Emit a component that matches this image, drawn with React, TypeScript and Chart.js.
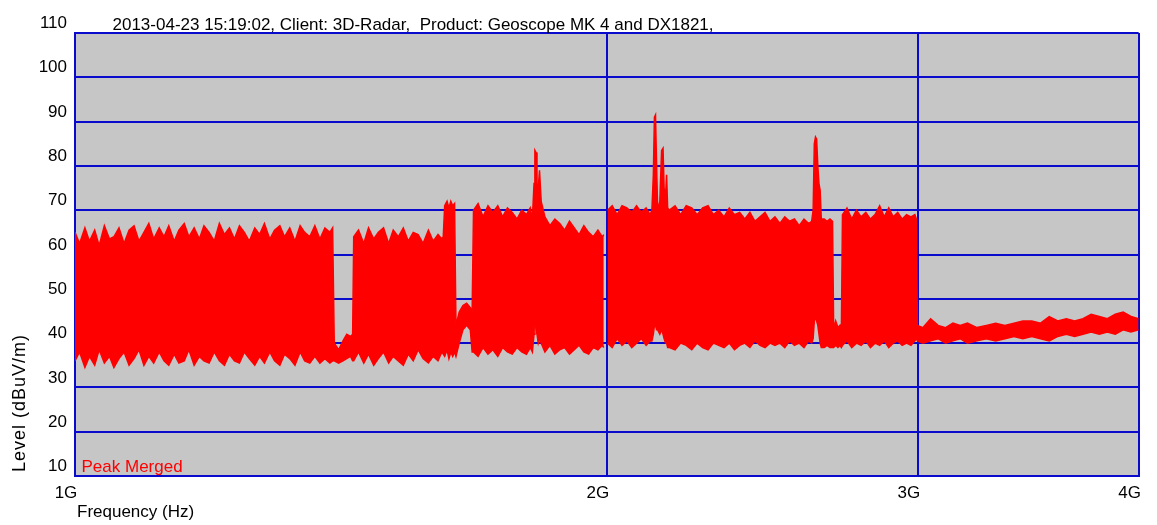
import React, { useEffect, useRef } from 'react';
import { Chart, registerables } from 'chart.js';

Chart.register(...registerables);

// ---- Text ----
const TITLE = '2013-04-23 15:19:02, Client: 3D-Radar,  Product: Geoscope MK 4 and DX1821,';
const X_TITLE = 'Frequency (Hz)';
const Y_TITLE = 'Level (dBuV/m)';
const SERIES_NAME = 'Peak Merged';

// ---- Axes ----
const xTickValuesGHz = [1, 2, 3, 4];
const xTickLabels = ['1G', '2G', '3G', '4G'];
const yMin = 10;
const yMax = 110;
const yStep = 10;

// ---- Spectrum envelope: [frequency GHz, band upper level, band lower level] in dBuV/m ----
const bandA: [number, number, number][] = [
  [1.000, 65, 36], [1.006, 62.5, 38], [1.013, 66, 34.5], [1.019, 63, 37], [1.026, 65.5, 35],
  [1.032, 62, 38.5], [1.039, 66.5, 35.5], [1.046, 63.5, 37], [1.052, 64, 34.5], [1.059, 66, 36.5],
  [1.066, 62.5, 38], [1.073, 65.5, 35], [1.080, 66.5, 36.5], [1.087, 63, 38.5], [1.094, 65, 35],
  [1.101, 67, 37], [1.108, 63.5, 35.5], [1.116, 66, 38], [1.123, 64, 36], [1.130, 66.5, 35],
  [1.138, 63, 37.5], [1.145, 65.5, 35.5], [1.153, 67, 36], [1.160, 64, 38.5], [1.168, 66, 35],
  [1.176, 63.5, 37], [1.183, 66.5, 36], [1.191, 65, 35.5], [1.199, 63, 38], [1.207, 67, 36],
  [1.215, 64.5, 35], [1.223, 66, 37.5], [1.231, 63.5, 36], [1.239, 66.5, 35.5], [1.247, 65, 38],
  [1.255, 63, 36.5], [1.264, 66, 35], [1.272, 64.5, 37], [1.280, 67, 35.5], [1.289, 63.5, 38],
  [1.297, 65.5, 36], [1.306, 66.5, 35], [1.314, 64, 37.5], [1.323, 66, 36.5], [1.332, 63, 35],
  [1.341, 66.5, 38], [1.349, 65, 36], [1.358, 64, 35.5], [1.367, 66.5, 37], [1.376, 63.5, 35.5],
  [1.385, 66, 36.5], [1.394, 65, 35.5], [1.399, 66, 36],
];

const quietA: [number, number, number][] = [
  [1.402, 40, 36], [1.410, 38.5, 35.5], [1.418, 40.5, 36], [1.425, 42, 36.5], [1.432, 41.5, 37], [1.436, 42, 36],
];

const bandB: [number, number, number][] = [
  [1.438, 64, 36], [1.447, 65.5, 38], [1.457, 62.5, 35.5], [1.466, 66, 37.5], [1.476, 63.5, 35],
  [1.485, 65, 36.5], [1.495, 66, 38], [1.505, 62.5, 35.5], [1.514, 65.5, 37], [1.524, 64, 36],
  [1.534, 66, 35], [1.544, 63, 37.5], [1.554, 65, 36], [1.564, 64.5, 38.5], [1.574, 62.5, 36.5],
  [1.585, 65.5, 35.5], [1.595, 63, 37], [1.605, 64.5, 36], [1.613, 63.5, 38], [1.616, 64, 37.5],
  [1.619, 71, 37], [1.624, 72, 38.5], [1.628, 70.5, 36.5], [1.632, 72, 38], [1.636, 71, 37], [1.640, 71.5, 38],
];

const bumpB: [number, number, number][] = [
  [1.643, 44, 37], [1.650, 47, 40], [1.658, 48.5, 43], [1.666, 49, 44], [1.674, 48, 43], [1.678, 47, 38],
];

const bandC: [number, number, number][] = [
  [1.681, 70, 38], [1.691, 71.5, 37], [1.702, 68.5, 39], [1.713, 71, 37.5], [1.724, 69.5, 38.5],
  [1.735, 71, 37], [1.746, 68.5, 39], [1.757, 70.5, 38], [1.768, 69.5, 37.5], [1.779, 68, 39],
  [1.790, 70, 38], [1.801, 69, 37.5], [1.810, 70.5, 39], [1.815, 68, 38],
  [1.819, 76, 42], [1.821, 83.5, 44], [1.824, 83, 44], [1.826, 71, 42], [1.829, 75, 40],
  [1.832, 79, 41], [1.836, 72, 40],
  [1.845, 68.5, 38], [1.857, 66.5, 39.5], [1.869, 68, 37.5], [1.881, 67, 38.5], [1.893, 65.5, 39],
  [1.905, 67.5, 37.5], [1.917, 66, 38.5], [1.929, 64.5, 39.5], [1.941, 66.5, 38], [1.953, 65, 37.5],
  [1.965, 64, 39], [1.977, 65.5, 38.5], [1.988, 64, 39.5], [1.992, 64.5, 39],
];

const bandD: [number, number, number][] = [
  [2.002, 70, 40], [2.014, 71, 39], [2.027, 69, 41], [2.040, 71, 39.5], [2.053, 70.5, 40.5],
  [2.066, 69.5, 39], [2.079, 71, 40], [2.092, 69.5, 41], [2.105, 70.5, 39.5], [2.116, 69, 40.5],
  [2.121, 70, 40.5], [2.125, 78, 42], [2.128, 91, 44], [2.131, 91.5, 44], [2.134, 80, 43],
  [2.137, 70, 43], [2.143, 72, 42], [2.148, 83.5, 43], [2.152, 84, 42], [2.155, 75, 41],
  [2.159, 73, 40], [2.162, 78, 40], [2.165, 70.5, 39],
];

const bandE: [number, number, number][] = [
  [2.170, 70, 39], [2.186, 71, 38.5], [2.202, 69, 40], [2.218, 71, 39.5], [2.234, 70.5, 38.5],
  [2.250, 69, 40], [2.266, 70.5, 39], [2.282, 71, 38.5], [2.298, 69, 40], [2.314, 70, 39.5],
  [2.330, 68.5, 39], [2.346, 70.5, 40], [2.362, 69, 38.5], [2.378, 69.5, 39.5], [2.394, 68, 40],
  [2.410, 69.5, 39], [2.426, 67.5, 40.5], [2.442, 68.5, 39.5], [2.458, 69.5, 39], [2.474, 67.5, 40],
  [2.490, 68.5, 39.5], [2.506, 67, 40], [2.522, 68.5, 39], [2.538, 67.5, 40.5], [2.554, 68, 39.5],
  [2.570, 66.5, 40], [2.586, 68, 39], [2.602, 67, 40.5], [2.612, 67.5, 40],
  [2.617, 70, 41], [2.621, 85, 45], [2.625, 86.5, 46], [2.629, 86, 45], [2.633, 80, 44],
  [2.637, 76, 42], [2.641, 74.5, 40], [2.645, 68, 39], [2.655, 68, 39], [2.665, 67.5, 39.5],
  [2.675, 68, 39], [2.684, 67.5, 39],
];

const quietE: [number, number, number][] = [
  [2.688, 43, 39], [2.695, 45, 39.5], [2.703, 43.5, 39], [2.710, 44, 39.5], [2.715, 42, 39],
];

const bandF: [number, number, number][] = [
  [2.719, 69, 39.5], [2.735, 70.5, 40.5], [2.752, 68, 39], [2.769, 70, 40], [2.786, 68.5, 39.5],
  [2.803, 69.5, 40.5], [2.820, 68, 39], [2.837, 69, 40], [2.854, 71, 39.5], [2.871, 68.5, 40.5],
  [2.888, 70.5, 39], [2.905, 68.5, 40], [2.922, 69.5, 40.5], [2.939, 68, 39.5], [2.956, 69, 40],
  [2.973, 68.5, 39.5], [2.988, 69, 40.5], [2.994, 68, 41],
];

const tail: [number, number, number][] = [
  [2.998, 44, 40.5], [3.02, 43.5, 40], [3.05, 45.5, 40.5], [3.08, 44, 41], [3.11, 43.5, 40],
  [3.14, 44.5, 40.5], [3.17, 44, 41], [3.20, 44.5, 40], [3.24, 43.5, 40.5], [3.28, 44, 41],
  [3.32, 44.5, 40.5], [3.36, 44, 41], [3.40, 44.5, 41.5], [3.44, 45, 41], [3.48, 45, 41.5],
  [3.52, 44.5, 41], [3.56, 46, 40.5], [3.60, 45, 41.5], [3.64, 45.5, 42], [3.68, 45, 41.5],
  [3.72, 45.5, 42], [3.76, 46.5, 42.5], [3.80, 46, 42], [3.84, 45.5, 42.5], [3.88, 46.5, 42],
  [3.92, 47, 43], [3.96, 46, 42.5], [4.00, 45.5, 43],
];

// a measurement gap lies right at 2 GHz (the grid line shows through)
const gapsGHz = [1.9995];

const FONT = "'Liberation Sans', Arial, Helvetica, sans-serif";
const GRID = '#0a0acc';
const PLOT_BG = '#c6c6c6';
const RED = '#ff0000';

type Pt = { x: number; y: number | null };

function buildSeries(which: 1 | 2): Pt[] {
  const before = [...bandA, ...quietA, ...bandB, ...bumpB, ...bandC];
  const after = [...bandD, ...bandE, ...quietE, ...bandF, ...tail];
  return [
    ...before.map((r) => ({ x: r[0] * 1e9, y: r[which] })),
    ...gapsGHz.map((g) => ({ x: g * 1e9, y: null })),
    ...after.map((r) => ({ x: r[0] * 1e9, y: r[which] })),
  ];
}

export default function App() {
  const ref = useRef<HTMLCanvasElement>(null);

  useEffect(() => {
    if (!ref.current) return;

    const decorPlugin = {
      id: 'decor',
      beforeDraw(chart: any) {
        const { ctx, chartArea: a } = chart;
        ctx.save();
        ctx.fillStyle = PLOT_BG;
        ctx.fillRect(a.left, a.top, a.right - a.left, a.bottom - a.top);
        ctx.restore();
      },
      afterDraw(chart: any) {
        const { ctx, chartArea: a } = chart;
        ctx.save();
        ctx.font = `17px ${FONT}`;
        ctx.textAlign = 'left';
        ctx.textBaseline = 'alphabetic';
        ctx.fillStyle = '#000';
        ctx.fillText(TITLE, 112.5, 29.5);
        ctx.fillText(X_TITLE, a.left + 2, 517);
        ctx.fillStyle = RED;
        ctx.fillText(SERIES_NAME, a.left + 6.5, a.bottom - 4.5);
        ctx.fillStyle = '#000';
        ctx.translate(25, a.bottom - 4);
        ctx.rotate(-Math.PI / 2);
        ctx.font = `18px ${FONT}`;
        (ctx as any).letterSpacing = '1px';
        ctx.fillText(Y_TITLE, 0, 0);
        ctx.restore();
      },
    };

    const common = {
      borderColor: RED,
      backgroundColor: RED,
      borderWidth: 1.5,
      pointRadius: 0,
      tension: 0,
      spanGaps: false,
    };

    const chart = new Chart(ref.current, {
      type: 'line',
      data: {
        datasets: [
          { ...common, label: SERIES_NAME, data: buildSeries(1), fill: '+1' },
          { ...common, label: SERIES_NAME + ' (low)', data: buildSeries(2), fill: false },
        ],
      },
      options: {
        animation: false,
        responsive: false,
        devicePixelRatio: 1,
        layout: { padding: { top: 33, right: 18, left: 0, bottom: 0 } },
        plugins: {
          legend: { display: false },
          title: { display: false },
          tooltip: { enabled: false },
        },
        scales: {
          x: {
            type: 'logarithmic',
            position: 'bottom',
            min: xTickValuesGHz[0] * 1e9,
            max: xTickValuesGHz[xTickValuesGHz.length - 1] * 1e9,
            afterBuildTicks: (s: any) => {
              s.ticks = xTickValuesGHz.map((v) => ({ value: v * 1e9 }));
            },
            afterFit: (s: any) => {
              s.height = 49;
            },
            grid: { color: GRID, lineWidth: 2, drawTicks: false },
            border: { color: GRID, width: 2 },
            ticks: {
              autoSkip: false,
              maxRotation: 0,
              minRotation: 0,
              padding: 7,
              labelOffset: -9,
              color: '#000',
              font: { family: FONT, size: 17 },
              callback: (_v: any, i: number) => xTickLabels[i],
            },
          },
          y: {
            type: 'linear',
            min: yMin,
            max: yMax,
            afterFit: (s: any) => {
              s.width = 75;
            },
            grid: { color: GRID, lineWidth: 2, drawTicks: false },
            border: { color: GRID, width: 2 },
            ticks: {
              stepSize: yStep,
              padding: 8,
              labelOffset: -9.5,
              color: '#000',
              font: { family: FONT, size: 17 },
            },
          },
        },
      } as any,
      plugins: [decorPlugin],
    });

    return () => chart.destroy();
  }, []);

  return (
    <div style={{ position: 'absolute', left: 0, top: 0, width: 1157, height: 525 }}>
      <canvas ref={ref} width={1157} height={525} />
    </div>
  );
}
